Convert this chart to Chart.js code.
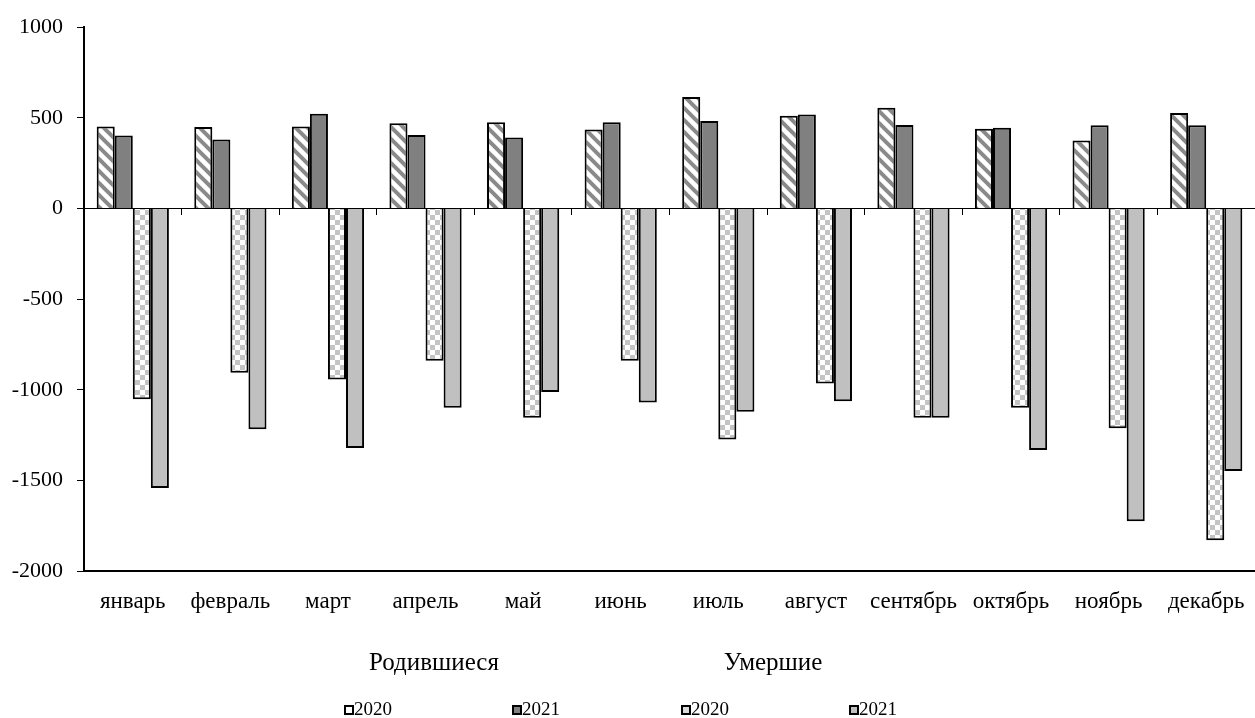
<!DOCTYPE html>
<html>
<head>
<meta charset="utf-8">
<script src="https://cdn.jsdelivr.net/npm/chart.js@4.4.0/dist/chart.umd.min.js"></script>
<style>
  html, body { margin: 0; padding: 0; background: #fff; }
  #wrap { width: 1255px; height: 718px; position: relative; }
</style>
</head>
<body>
<div id="wrap"><canvas id="grafico"></canvas></div>
<script>
const meses = ["январь", "февраль", "март", "апрель", "май", "июнь",
  "июль", "август", "сентябрь", "октябрь", "ноябрь", "декабрь"];

// родившиеся
const nasc2020 = [452, 449, 452, 470, 476, 436, 615, 511, 555, 440, 375, 527];
const nasc2021 = [403, 381, 522, 405, 392, 476, 483, 518, 460, 445, 459, 459];
// умершие (со знаком минус)
const mort2020 = [-1053, -906, -943, -840, -1155, -840, -1275, -965, -1155, -1100, -1213, -1830];
const mort2021 = [-1542, -1218, -1322, -1100, -1012, -1070, -1121, -1064, -1155, -1332, -1725, -1449];

const ticksY = [-2000, -1500, -1000, -500, 0, 500, 1000];
const grupos = ["Родившиеся", "Умершие"];
const anos = ["2020", "2021", "2020", "2021"];

const fonte = "'Times New Roman', 'Liberation Serif', serif";

// padroes de preenchimento
const listras = () => {
  const c = document.createElement('canvas');
  c.width = 12; c.height = 12;
  const g = c.getContext('2d');
  g.fillStyle = '#fff';
  g.fillRect(0, 0, 12, 12);
  g.strokeStyle = '#8a8a8a';
  g.lineWidth = 4;
  g.beginPath();
  g.moveTo(-3, -3); g.lineTo(15, 15);
  g.moveTo(-3, 9); g.lineTo(3, 15);
  g.moveTo(9, -3); g.lineTo(15, 3);
  g.stroke();
  return g.createPattern(c, 'repeat');
};
const xadrez = () => {
  const c = document.createElement('canvas');
  c.width = 10; c.height = 10;
  const g = c.getContext('2d');
  g.fillStyle = '#fff';
  g.fillRect(0, 0, 10, 10);
  g.fillStyle = '#c4c4c4';
  g.fillRect(5, 0, 5, 5);
  g.fillRect(0, 5, 5, 5);
  return g.createPattern(c, 'repeat');
};

const coresLegenda = ['#ffffff', '#808080', '#dadada', '#c0c0c0'];

const legendaPlugin = {
  id: 'legendaPlugin',
  afterDraw(chart) {
    const ctx = chart.ctx;
    ctx.save();
    ctx.fillStyle = '#000';
    ctx.font = '25px ' + fonte;
    ctx.textAlign = 'center';
    ctx.textBaseline = 'middle';
    ctx.fillText(grupos[0], 434, 663);
    ctx.fillText(grupos[1], 773, 663);

    ctx.font = '19px ' + fonte;
    ctx.textAlign = 'left';
    const xs = [345, 513, 682, 850];
    anos.forEach((a, i) => {
      ctx.fillStyle = coresLegenda[i];
      ctx.fillRect(xs[i], 706, 8, 8);
      ctx.strokeStyle = '#000';
      ctx.lineWidth = 2;
      ctx.strokeRect(xs[i], 706, 8, 8);
      ctx.fillStyle = '#000';
      ctx.fillText(a, xs[i] + 9, 710);
    });
    ctx.restore();
  }
};

const semPadding = (s) => { s.paddingLeft = 0; s.paddingRight = 0; };

const ctx = document.getElementById('grafico').getContext('2d');

const grafico = new Chart(ctx, {
  type: 'bar',
  data: {
    labels: meses,
    datasets: [
      { label: '2020', data: nasc2020, backgroundColor: listras(), borderColor: '#000', borderWidth: 2 },
      { label: '2021', data: nasc2021, backgroundColor: '#808080', borderColor: '#000', borderWidth: 2 },
      { label: '2020', data: mort2020, backgroundColor: xadrez(), borderColor: '#000', borderWidth: 2 },
      { label: '2021', data: mort2021, backgroundColor: '#c0c0c0', borderColor: '#000', borderWidth: 2 }
    ]
  },
  options: {
    responsive: true,
    maintainAspectRatio: false,
    animation: false,
    layout: { padding: { top: 23, right: 0, left: 0, bottom: 0 } },
    datasets: {
      bar: { categoryPercentage: 0.74, barPercentage: 1.0, xAxisID: 'x' }
    },
    scales: {
      x: {
        position: 'bottom',
        grid: { display: false, drawTicks: false },
        border: { display: true, color: '#000', width: 2 },
        ticks: { color: '#000', font: { family: fonte, size: 23 }, padding: 17, maxRotation: 0, autoSkip: false },
        afterFit: (s) => { s.height = 147; semPadding(s); }
      },
      x2: {
        type: 'category',
        position: { y: 0 },
        labels: meses,
        offset: true,
        grid: { display: true, drawOnChartArea: false, drawTicks: true, tickLength: 6, color: '#000', offset: true },
        border: { display: true, color: '#000', width: 1 },
        ticks: { display: false },
        afterFit: semPadding
      },
      y: {
        min: -2000,
        max: 1000,
        afterBuildTicks: (s) => { s.ticks = ticksY.map(v => ({ value: v })); },
        grid: { drawOnChartArea: false, drawTicks: true, tickLength: 7, tickColor: '#000' },
        border: { display: true, color: '#000', width: 2 },
        ticks: { color: '#000', font: { family: fonte, size: 22 }, padding: 14, callback: (v) => String(v) },
        afterFit: (s) => { s.width = 84; }
      }
    },
    plugins: {
      legend: { display: false },
      tooltip: { enabled: false }
    }
  },
  plugins: [legendaPlugin]
});
</script>
</body>
</html>
